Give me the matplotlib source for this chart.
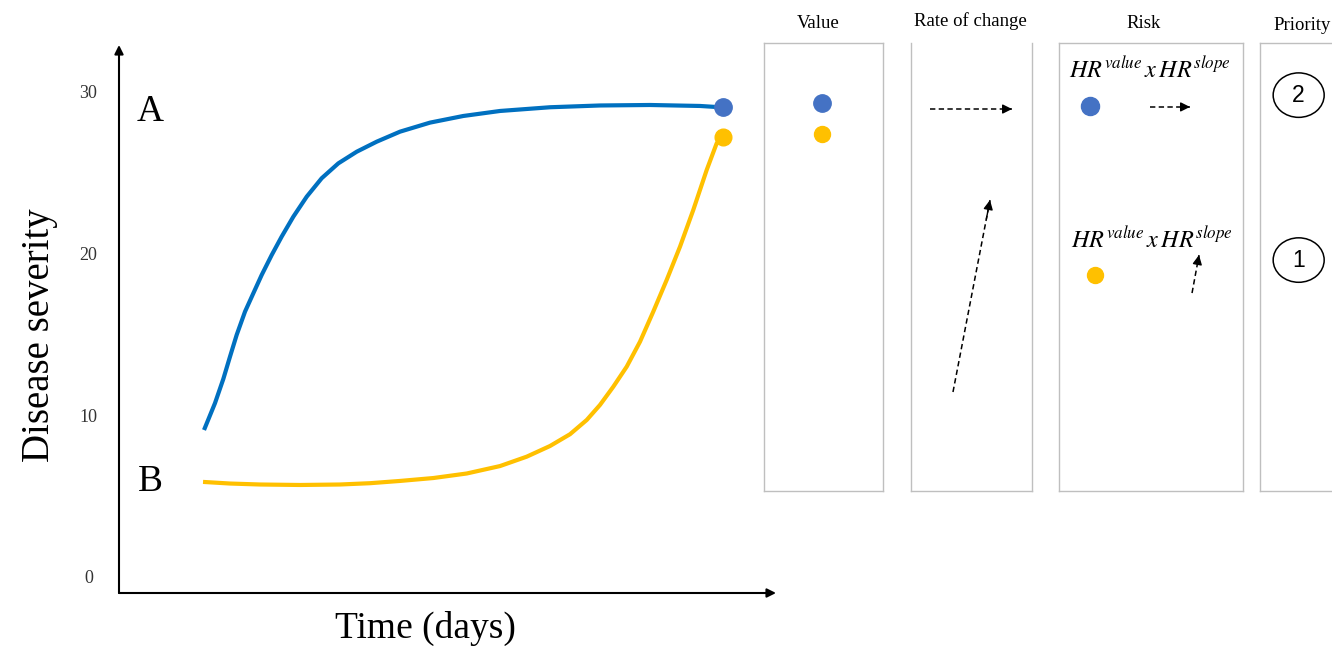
import matplotlib
matplotlib.use("Agg")
import matplotlib.pyplot as plt
from matplotlib.patches import Ellipse

plt.rcParams['font.family'] = ['Liberation Serif', 'DejaVu Serif']
plt.rcParams['mathtext.fontset'] = 'stix'

# curve A (blue): time (days), disease severity
days_a = [12.94, 14.61, 15.88, 16.89, 17.91, 19.18, 20.44, 21.72, 23.24, 24.76,
          26.53, 28.57, 30.85, 33.38, 36.18, 39.22, 42.77, 47.34, 52.40, 57.99,
          65.60, 73.21, 80.82, 88.43, 91.93]
sev_a = [9.09, 10.75, 12.25, 13.62, 14.97, 16.41, 17.54, 18.68, 19.91, 21.05,
         22.28, 23.52, 24.66, 25.58, 26.30, 26.92, 27.54, 28.10, 28.51, 28.82,
         29.05, 29.16, 29.19, 29.13, 29.04]

# curve B (orange)
days_b = [12.79, 16.89, 21.46, 27.55, 33.64, 38.20, 42.77, 47.84, 52.92, 57.99,
          62.05, 65.60, 68.65, 71.19, 73.21, 75.24, 77.28, 79.30, 81.32, 83.36,
          85.39, 87.41, 89.45, 90.97, 91.93]
sev_b = [5.88, 5.78, 5.72, 5.69, 5.72, 5.80, 5.94, 6.12, 6.40, 6.86,
         7.44, 8.10, 8.83, 9.71, 10.64, 11.77, 13.01, 14.55, 16.41, 18.37,
         20.43, 22.70, 25.17, 26.82, 27.21]

# last observation of each curve
last_day = [91.9, 91.9]
last_sev = [29.05, 27.2]

y_ticks = [0, 10, 20, 30]

# value panel
value_sev = [29.3, 27.4]

# risk panel dots
risk_x = [0.168, 0.196]
risk_sev = [29.1, 18.7]
risk_label = r'$HR^{value}\,x\,HR^{slope}$'

# priorities
priority_labels = ['2', '1']
priority_sev = [29.8, 19.6]

panel_titles = ['Value', 'Rate of change', 'Risk', 'Priority']

blue_line = '#0070C0'
blue_dot = '#4472C4'
orange = '#FFC000'
box_grey = '#BFBFBF'

W, H = 1332, 646
fig = plt.figure(figsize=(W / 100, H / 100), dpi=100)

# main chart: pixel box 119..776 x 45..593
ax = fig.add_axes([119 / W, 1 - 593 / H, (776 - 119) / W, (593 - 45) / H])
ylo, yhi = -0.99, 32.9
ax.set_xlim(0, 100)
ax.set_ylim(ylo, yhi)
for s in ax.spines.values():
    s.set_visible(False)
ax.set_xticks([])
ax.set_yticks(y_ticks)
ax.set_yticklabels([str(t) for t in y_ticks], fontsize=13, color='#333333')
ax.tick_params(axis='y', length=0, pad=22)
for lab in ax.get_yticklabels():
    lab.set_ha('center')

arrow_kw = dict(arrowstyle='-|>', color='black', lw=1.5, mutation_scale=13,
                shrinkA=0, shrinkB=0)
ax.annotate('', xy=(1, 0), xytext=(0, 0), xycoords='axes fraction',
            arrowprops=arrow_kw, annotation_clip=False)
ax.annotate('', xy=(0, 1), xytext=(0, 0), xycoords='axes fraction',
            arrowprops=arrow_kw, annotation_clip=False)

ax.plot(days_a, sev_a, color=blue_line, lw=3, solid_capstyle='butt',
        solid_joinstyle='round')
ax.plot(days_b, sev_b, color=orange, lw=3, solid_capstyle='butt',
        solid_joinstyle='round')
ax.plot(last_day[0], last_sev[0], 'o', color=blue_dot, ms=12.5)
ax.plot(last_day[1], last_sev[1], 'o', color=orange, ms=12)

ax.text(4.7, 28.8, 'A', fontsize=27, ha='center', va='center')
ax.text(4.7, 5.9, 'B', fontsize=27, ha='center', va='center')

fig.text(40 / W, 1 - 335 / H, 'Disease severity', fontsize=28, rotation=90,
         ha='center', va='center')
fig.text(425 / W, 1 - 628 / H, 'Time (days)', fontsize=27, ha='center', va='center')

# side panels, same severity scale as the main chart
top_px, bot_px = 43, 491
px_per_unit = 548 / (yhi - ylo)
p_yhi = (593 - top_px) / px_per_unit + ylo
p_ylo = (593 - bot_px) / px_per_unit + ylo
panel_px = [(764, 883), (911, 1032), (1059, 1243), (1260, 1345)]
title_pos = [(0.454, 24), (0.49, 21), (0.46, 24), (0.5, 26)]

panels = []
for (x0, x1), title, (tx, ty) in zip(panel_px, panel_titles, title_pos):
    pa = fig.add_axes([x0 / W, 1 - bot_px / H, (x1 - x0) / W, (bot_px - top_px) / H])
    pa.set_xlim(0, 1)
    pa.set_ylim(p_ylo, p_yhi)
    pa.set_xticks([])
    pa.set_yticks([])
    for s in pa.spines.values():
        s.set_color(box_grey)
        s.set_linewidth(1.0)
    fig.text((x0 + tx * (x1 - x0)) / W, 1 - ty / H, title, fontsize=13.5,
             ha='center', va='center')
    panels.append(pa)

pv, pr, pk, pp = panels
pr.spines['top'].set_visible(False)
pp.spines['right'].set_visible(False)

# value
pv.plot(0.487, value_sev[0], 'o', color=blue_dot, ms=12.5)
pv.plot(0.487, value_sev[1], 'o', color=orange, ms=11.5)


def dashed_arrow(a, x0, y0, x1, y1):
    a.plot([x0, x1], [y0, y1], color='black', lw=1.1, dashes=(3.5, 2.2))
    a.annotate('', xy=(x1, y1), xytext=(x0 + 0.9 * (x1 - x0), y0 + 0.9 * (y1 - y0)),
               arrowprops=dict(arrowstyle='-|>', color='black', lw=1.0,
                               mutation_scale=14, shrinkA=0, shrinkB=0))


# rate of change
dashed_arrow(pr, 0.157, 28.94, 0.835, 28.94)
dashed_arrow(pr, 0.347, 11.44, 0.653, 23.31)

# risk
pk.plot(risk_x[0], risk_sev[0], 'o', color=blue_dot, ms=13)
pk.plot(risk_x[1], risk_sev[1], 'o', color=orange, ms=11.5)
pk.text(0.495, 31.35, risk_label, fontsize=17.5, ha='center', va='center')
pk.text(0.505, 20.84, risk_label, fontsize=17.5, ha='center', va='center')
dashed_arrow(pk, 0.495, 29.07, 0.712, 29.07)
dashed_arrow(pk, 0.723, 17.56, 0.761, 19.91)

# priority
for lab, yv in zip(priority_labels, priority_sev):
    pp.add_patch(Ellipse((0.455, yv), 0.6, 2.75, facecolor='white',
                         edgecolor='black', lw=1.1))
    pp.text(0.455, yv, lab, fontsize=16.5, ha='center', va='center',
            family=['Liberation Sans', 'DejaVu Sans'])

fig.savefig('out.png', dpi=100)
